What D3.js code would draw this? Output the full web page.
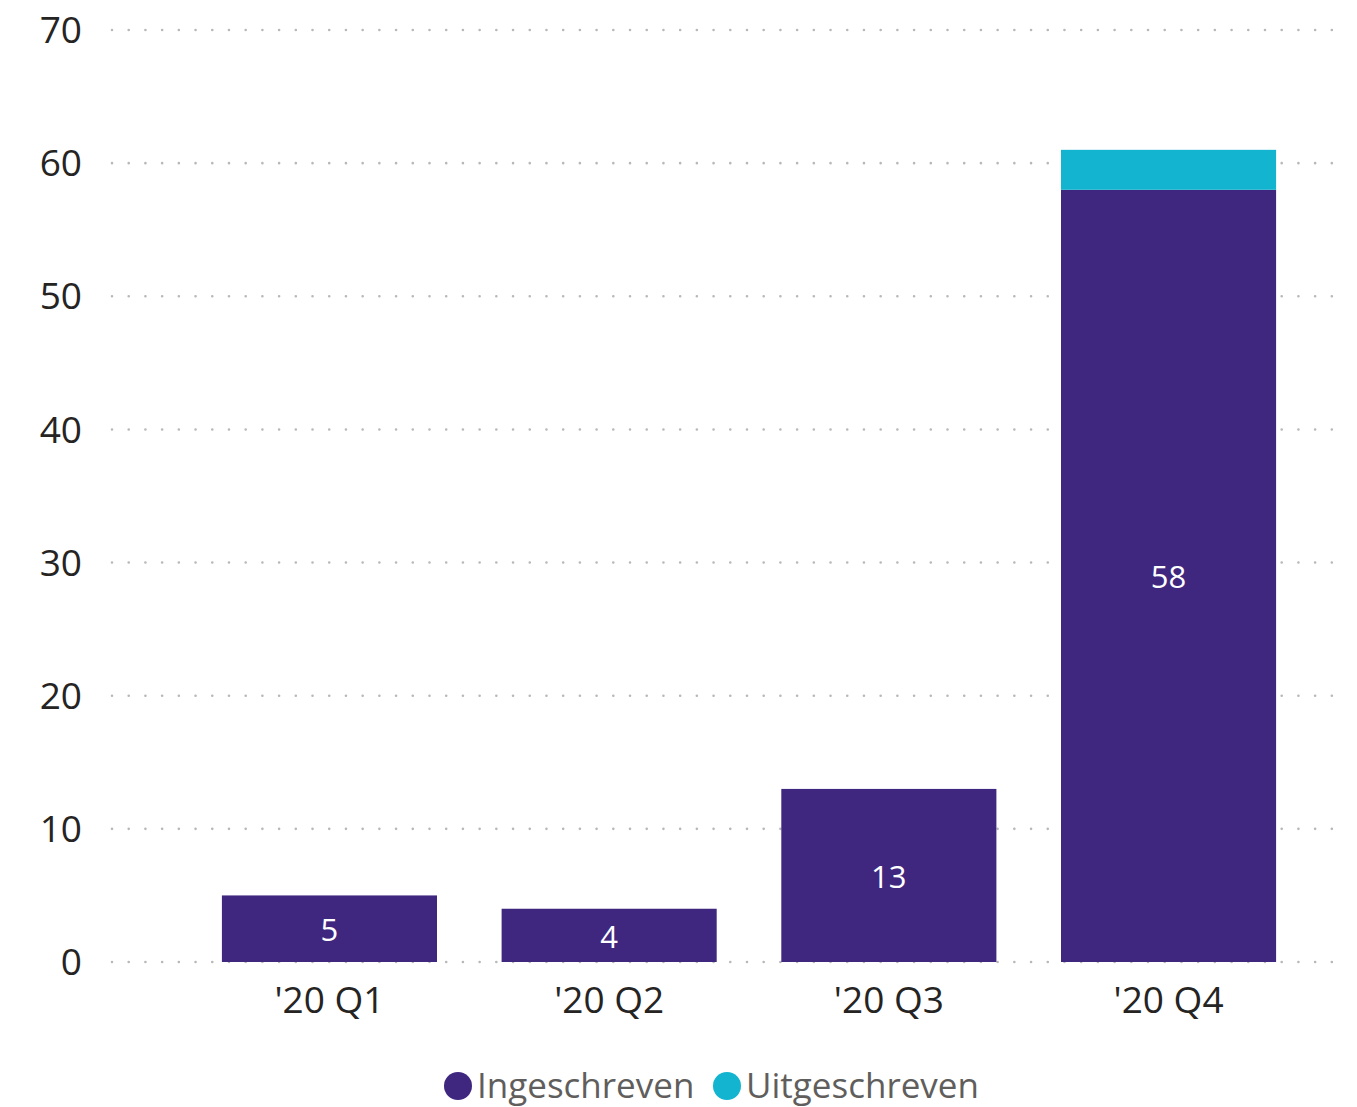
<!DOCTYPE html>
<html><head><meta charset="utf-8">
<script src="https://cdn.jsdelivr.net/npm/d3@7"></script>
<style>body{margin:0;background:#fff}svg{display:block}text{font-family:"Open Sans",sans-serif}</style>
</head><body>
<script>
const categories = ["'20 Q1", "'20 Q2", "'20 Q3", "'20 Q4"];
const seriesNames = ["Ingeschreven", "Uitgeschreven"];
const ingeschreven = [5, 4, 13, 58];
const uitgeschreven = [0, 0, 0, 3];
const yTicks = [0, 10, 20, 30, 40, 50, 60, 70];
const colors = ["#3F2780", "#12B4CF"];

const W = 1357, H = 1107;
const svg = d3.select("body").append("svg").attr("width", W).attr("height", H);

const y = d3.scaleLinear().domain([0, 70]).range([962, 30]);
const x = d3.scaleBand().domain(categories).range([189.6, 1308.4]).paddingInner(0.231).paddingOuter(0.1155);

// gridlines
const grid = svg.append("g");
yTicks.forEach(t => {
  grid.append("line").attr("x1", 112).attr("x2", 1345).attr("y1", y(t)).attr("y2", y(t))
    .attr("stroke", "#b8b8b8").attr("stroke-width", 2.6).attr("stroke-dasharray", "0.01 16.7").attr("stroke-linecap", "round");
});

// y axis labels
const yAxis = d3.axisLeft(y).tickValues(yTicks).tickSize(0).tickPadding(0);
const yg = svg.append("g").attr("transform", "translate(82,0)").call(yAxis);
yg.select(".domain").remove();
yg.selectAll("text").attr("font-size", 37).attr("fill", "#252423").attr("font-family", "'Open Sans',sans-serif").attr("dy", "0.34em");

// stacked data
const rows = categories.map((c, i) => ({cat: c, Ingeschreven: ingeschreven[i], Uitgeschreven: uitgeschreven[i]}));
const stack = d3.stack().keys(seriesNames)(rows);

stack.forEach((layer, li) => {
  svg.append("g").selectAll("rect").data(layer).join("rect")
    .attr("x", d => x(d.data.cat)).attr("width", x.bandwidth())
    .attr("y", d => y(d[1])).attr("height", d => y(d[0]) - y(d[1]))
    .attr("fill", colors[li]);
});

// labels inside Ingeschreven
svg.append("g").selectAll("text").data(stack[0]).join("text")
  .attr("x", d => x(d.data.cat) + x.bandwidth() / 2)
  .attr("y", d => (y(d[0]) + y(d[1])) / 2)
  .attr("dy", "0.4em").attr("text-anchor", "middle")
  .attr("font-size", 31).attr("fill", "#fff")
  .text(d => d.data.Ingeschreven);

// x axis labels
const xAxis = d3.axisBottom(x).tickSize(0).tickPadding(0);
const xg = svg.append("g").attr("transform", "translate(0,1000)").call(xAxis);
xg.select(".domain").remove();
xg.selectAll("text").attr("font-size", 37).attr("fill", "#252423").attr("font-family", "'Open Sans',sans-serif").attr("dy", "0.34em").attr("y", 0);

// legend
const legend = svg.append("g");
const lx = [458, 727];
seriesNames.forEach((s, i) => {
  legend.append("circle").attr("cx", lx[i]).attr("cy", 1086).attr("r", 14).attr("fill", colors[i]);
  legend.append("text").attr("x", lx[i] + 19).attr("y", 1086).attr("dy", "0.34em")
    .attr("font-size", 35).attr("fill", "#605E5C").text(s);
});
</script>
</body></html>
